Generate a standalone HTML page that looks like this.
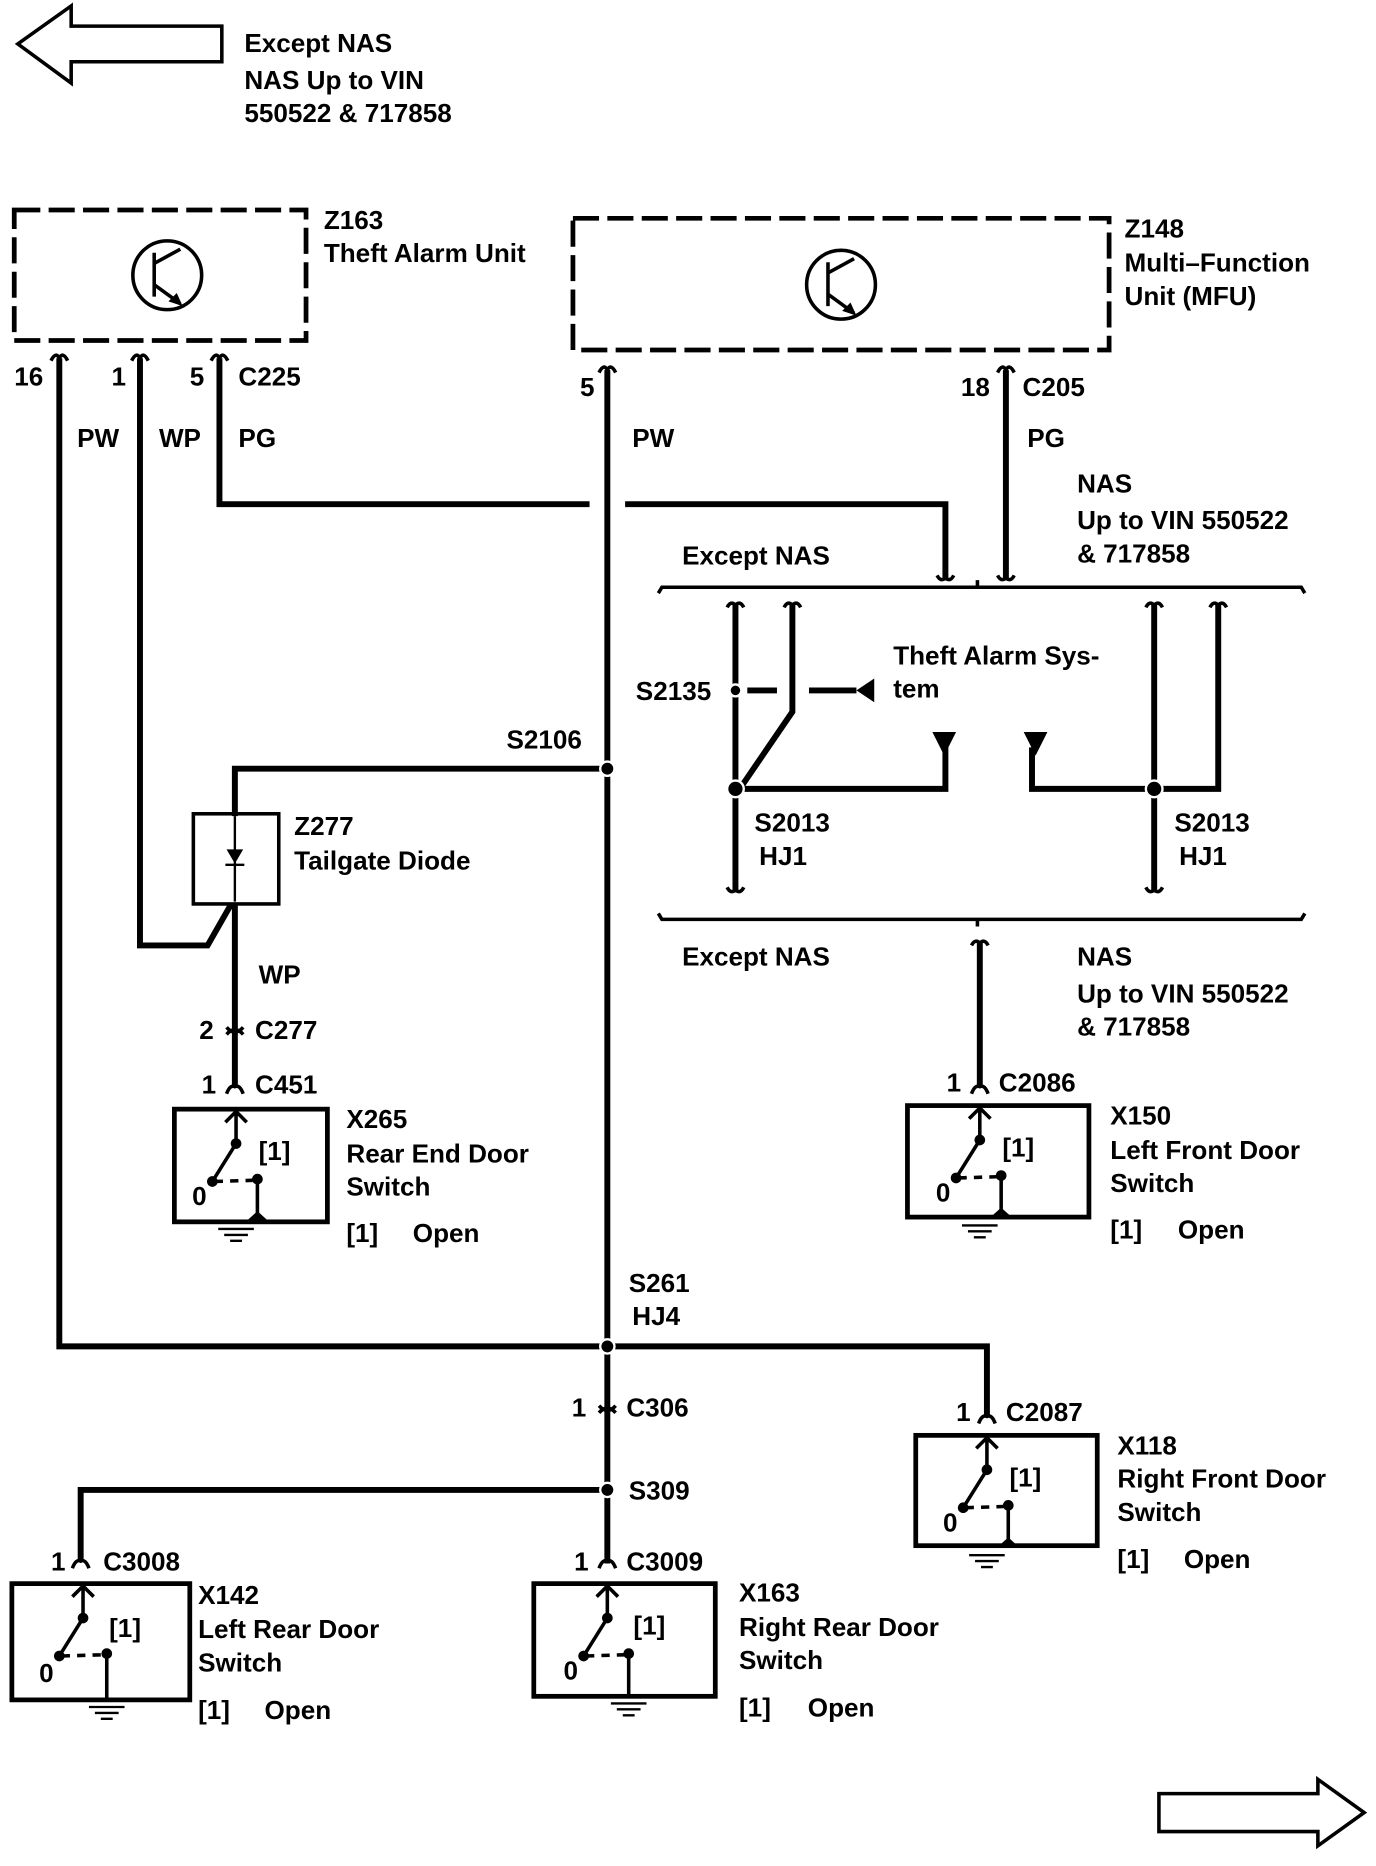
<!DOCTYPE html>
<html><head><meta charset="utf-8"><style>
html,body{margin:0;padding:0;background:#fff}
svg{display:block}
text{font-family:"Liberation Sans",Arial,sans-serif;font-weight:bold;font-size:22px;fill:#000}
</style></head><body>
<svg width="1376" height="1866" viewBox="0 0 1160 1573" xmlns="http://www.w3.org/2000/svg">
<g fill="none" stroke="#000" stroke-width="3">
<path d="M15,37 L60,5 L60,22 L187,22 L187,52 L60,52 L60,70 Z"/>
<path d="M1150,1528 L1111,1500 L1111,1512 L977,1512 L977,1544 L1111,1544 L1111,1556 Z"/>
<rect x="12" y="177" width="246" height="110" stroke-dasharray="22,7" stroke-width="4"/>
<rect x="483" y="184" width="452" height="111" stroke-dasharray="22,7" stroke-width="4"/>
<circle cx="141" cy="232" r="29"/>
<circle cx="709" cy="240" r="29"/>
</g>
<g stroke="#000" stroke-width="3" fill="none">
<path d="M130,213 L130,250 M130,222 L152,210 M130,240 L152,256"/>
<path d="M698,221 L698,258 M698,230 L720,218 M698,248 L720,264"/>
</g>
<path d="M154,258 L142,254 L149,247 Z M722,266 L710,262 L717,255 Z" fill="#000"/>

<g fill="none" stroke="#000" stroke-width="5">
<path d="M50,302 L50,1135 L832,1135 L832,1195"/>
<path d="M118,302 L118,797 L175,797 L195,762"/>
<path d="M185,302 L185,425 L497,425 M527,425 L797,425 L797,487"/>
<path d="M512,312 L512,1318"/>
<path d="M848,312 L848,487"/>
<path d="M512,648 L198,648 L198,688 M198,762 L198,915"/>
<path d="M512,1256 L68,1256 L68,1315"/>
<path d="M826,795 L826,915"/>
<path d="M620,510 L620,750"/>
<path d="M668,510 L668,600 L625,663"/>
<path d="M630,582 L655,582 M682,582 L722,582"/>
<path d="M625,665 L797,665 L797,630"/>
<path d="M870,630 L870,665 L1027,665 L1027,510"/>
<path d="M973,510 L973,750"/>
</g>
<g fill="none" stroke="#000" stroke-width="3">
<path d="M555,500 L558,495 L1097,495 L1100,500 M824,495 L824,489"/>
<path d="M555,770 L558,775 L1097,775 L1100,770 M824,775 L824,781"/>
<path d="M613,512 Q616,506 620,510 Q624,506 627,512 M661,512 Q664,506 668,510 Q672,506 675,512 M966,512 Q969,506 973,510 Q977,506 980,512 M1020,512 Q1023,506 1027,510 Q1031,506 1034,512"/>
<path d="M613,748 Q616,754 620,750 Q624,754 627,748 M966,748 Q969,754 973,750 Q977,754 980,748"/>
<path d="M790,485 Q793,491 797,487 Q801,491 804,485 M841,485 Q844,491 848,487 Q852,491 855,485"/>
<path d="M819,797 Q822,791 826,795 Q830,791 833,797"/>
<path d="M43,304 Q47,296 50,302 Q53,296 57,304 M111,304 Q115,296 118,302 Q121,296 125,304 M178,304 Q182,296 185,302 Q188,296 192,304"/>
<path d="M505,314 Q509,306 512,312 Q515,306 519,314 M841,314 Q845,306 848,312 Q851,306 855,314"/>
<path d="M191,922 Q194,914 198,916 Q202,914 205,922 M819,922 Q822,914 826,916 Q830,914 833,922 M825,1200 Q828,1192 832,1194 Q836,1192 839,1200 M61,1322 Q64,1314 68,1316 Q72,1314 75,1322 M505,1322 Q508,1314 512,1316 Q516,1314 519,1322"/>
<path d="M191,872 Q198,864 205,872 M191,866 Q198,874 205,866 M505,1191 Q512,1183 519,1191 M505,1185 Q512,1193 519,1185"/>
</g>
<path d="M722,582 L737,572 L737,592 Z M786,617 L806,617 L796,637 Z M863,617 L883,617 L873,637 Z" fill="#000"/>
<g fill="#000" stroke="#fff" stroke-width="2">
<circle cx="512" cy="648" r="6"/><circle cx="512" cy="1135" r="6"/><circle cx="512" cy="1256" r="6"/>
<circle cx="620" cy="582" r="5"/><circle cx="620" cy="665" r="7"/><circle cx="973" cy="665" r="7"/>
</g>
<rect x="163" y="686" width="72" height="76" fill="none" stroke="#000" stroke-width="3"/>
<path d="M198,688 L198,760" stroke="#000" stroke-width="2"/>
<path d="M191,716 L205,716 L198,728 Z" fill="#000"/><path d="M190,729 L206,729" stroke="#000" stroke-width="2"/>

<g fill="none" stroke="#000" stroke-width="4">
<rect x="147" y="935" width="129" height="95"/>
<rect x="765" y="932" width="153" height="94"/>
<rect x="772" y="1210" width="153" height="93"/>
<rect x="10" y="1335" width="150" height="98"/>
<rect x="450" y="1335" width="153" height="95"/>
</g>
<g transform="translate(199,935)"><g stroke="#000" fill="none" stroke-width="3"><path d="M0,2 L0,29 M-9,11 L0,2 L9,11 M0,29 L-20,61 M18,59 L18,95"/><path d="M-18,61 L14,60" stroke-dasharray="7,6"/><path d="M-15,101 L15,101 M-10,106 L10,106 M-5,111 L5,111" stroke-width="2"/></g><circle cx="0" cy="29" r="4.5"/><circle cx="-20" cy="61" r="4.5"/><circle cx="18" cy="59" r="4.5"/><path d="M8,95 L28,95 L18,86 Z"/><text x="-37" y="81">0</text><text x="19" y="43">[1]</text></g>
<g transform="translate(826,932)"><g stroke="#000" fill="none" stroke-width="3"><path d="M0,2 L0,29 M-9,11 L0,2 L9,11 M0,29 L-20,61 M18,59 L18,95"/><path d="M-18,61 L14,60" stroke-dasharray="7,6"/><path d="M-15,101 L15,101 M-10,106 L10,106 M-5,111 L5,111" stroke-width="2"/></g><circle cx="0" cy="29" r="4.5"/><circle cx="-20" cy="61" r="4.5"/><circle cx="18" cy="59" r="4.5"/><path d="M8,95 L28,95 L18,86 Z"/><text x="-37" y="81">0</text><text x="19" y="43">[1]</text></g>
<g transform="translate(832,1210)"><g stroke="#000" fill="none" stroke-width="3"><path d="M0,2 L0,29 M-9,11 L0,2 L9,11 M0,29 L-20,61 M18,59 L18,95"/><path d="M-18,61 L14,60" stroke-dasharray="7,6"/><path d="M-15,101 L15,101 M-10,106 L10,106 M-5,111 L5,111" stroke-width="2"/></g><circle cx="0" cy="29" r="4.5"/><circle cx="-20" cy="61" r="4.5"/><circle cx="18" cy="59" r="4.5"/><path d="M8,95 L28,95 L18,86 Z"/><text x="-37" y="81">0</text><text x="19" y="43">[1]</text></g>
<g transform="translate(70,1335)"><g stroke="#000" fill="none" stroke-width="3"><path d="M0,2 L0,29 M-9,11 L0,2 L9,11 M0,29 L-20,61 M20,59 L20,98"/><path d="M-18,61 L16,60" stroke-dasharray="7,6"/><path d="M5,104 L35,104 M10,109 L30,109 M15,114 L25,114" stroke-width="2"/></g><circle cx="0" cy="29" r="4.5"/><circle cx="-20" cy="61" r="4.5"/><circle cx="20" cy="59" r="4.5"/><text x="-37" y="83">0</text><text x="22" y="45">[1]</text></g>
<g transform="translate(512,1335)"><g stroke="#000" fill="none" stroke-width="3"><path d="M0,2 L0,29 M-9,11 L0,2 L9,11 M0,29 L-20,61 M18,59 L18,95"/><path d="M-18,61 L14,60" stroke-dasharray="7,6"/><path d="M3,101 L33,101 M8,106 L28,106 M13,111 L23,111" stroke-width="2"/></g><circle cx="0" cy="29" r="4.5"/><circle cx="-20" cy="61" r="4.5"/><circle cx="18" cy="59" r="4.5"/><text x="-37" y="81">0</text><text x="22" y="43">[1]</text></g>

<text x="206" y="44">Except NAS</text>
<text x="206" y="75">NAS Up to VIN</text>
<text x="206" y="103">550522 &amp; 717858</text>
<text x="273" y="193">Z163</text>
<text x="273" y="221">Theft Alarm Unit</text>
<text x="948" y="200">Z148</text>
<text x="948" y="229">Multi–Function</text>
<text x="948" y="257">Unit (MFU)</text>
<text x="12" y="325">16</text><text x="94" y="325">1</text><text x="160" y="325">5</text><text x="201" y="325">C225</text>
<text x="65" y="377">PW</text><text x="134" y="377">WP</text><text x="201" y="377">PG</text>
<text x="489" y="334">5</text><text x="533" y="377">PW</text>
<text x="810" y="334">18</text><text x="862" y="334">C205</text><text x="866" y="377">PG</text>
<text x="908" y="415">NAS</text><text x="908" y="446">Up to VIN 550522</text><text x="908" y="474">&amp; 717858</text>
<text x="575" y="476">Except NAS</text>
<text x="536" y="590">S2135</text>
<text x="753" y="560">Theft Alarm Sys-</text><text x="753" y="588">tem</text>
<text x="636" y="701">S2013</text><text x="640" y="729">HJ1</text>
<text x="990" y="701">S2013</text><text x="994" y="729">HJ1</text>
<text x="427" y="631">S2106</text>
<text x="248" y="704">Z277</text><text x="248" y="733">Tailgate Diode</text>
<text x="218" y="829">WP</text>
<text x="168" y="876">2</text><text x="215" y="876">C277</text>
<text x="170" y="922">1</text><text x="215" y="922">C451</text>
<text x="292" y="951">X265</text><text x="292" y="980">Rear End Door</text><text x="292" y="1008">Switch</text><text x="292" y="1047">[1]</text><text x="348" y="1047">Open</text>
<text x="575" y="814">Except NAS</text>
<text x="908" y="814">NAS</text><text x="908" y="845">Up to VIN 550522</text><text x="908" y="873">&amp; 717858</text>
<text x="798" y="920">1</text><text x="842" y="920">C2086</text>
<text x="936" y="948">X150</text><text x="936" y="977">Left Front Door</text><text x="936" y="1005">Switch</text><text x="936" y="1044">[1]</text><text x="993" y="1044">Open</text>
<text x="530" y="1089">S261</text><text x="533" y="1117">HJ4</text>
<text x="482" y="1194">1</text><text x="528" y="1194">C306</text>
<text x="806" y="1198">1</text><text x="848" y="1198">C2087</text>
<text x="942" y="1226">X118</text><text x="942" y="1254">Right Front Door</text><text x="942" y="1282">Switch</text><text x="942" y="1322">[1]</text><text x="998" y="1322">Open</text>
<text x="530" y="1264">S309</text>
<text x="43" y="1324">1</text><text x="87" y="1324">C3008</text>
<text x="484" y="1324">1</text><text x="528" y="1324">C3009</text>
<text x="167" y="1352">X142</text><text x="167" y="1381">Left Rear Door</text><text x="167" y="1409">Switch</text><text x="167" y="1449">[1]</text><text x="223" y="1449">Open</text>
<text x="623" y="1350">X163</text><text x="623" y="1379">Right Rear Door</text><text x="623" y="1407">Switch</text><text x="623" y="1447">[1]</text><text x="681" y="1447">Open</text>
</svg>
</body></html>
